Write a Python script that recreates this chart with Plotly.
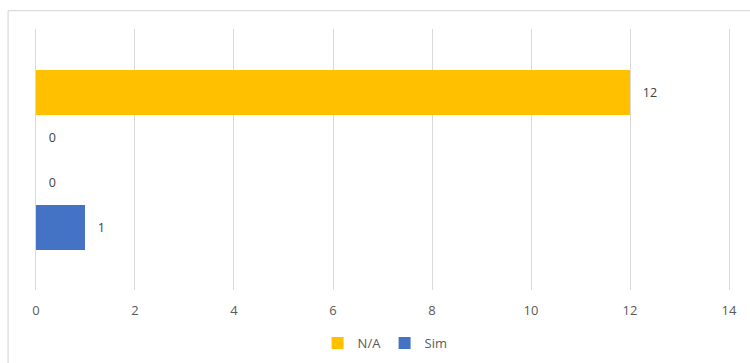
import plotly.graph_objects as go

# Two response groups (bottom to top), one value per series in each group
groups = [0, 1]
sim_values = [1, 0]
na_values = [0, 12]

x_ticks = [0, 2, 4, 6, 8, 10, 12, 14]

FONT = "Open Sans"
GRID = "#d9d9d9"
label_fmt = "\u00a0\u00a0\u00a0%{x}"

fig = go.Figure()
fig.add_trace(go.Bar(
    name="Sim", y=groups, x=sim_values, orientation="h",
    marker=dict(color="#4472C4", line=dict(width=0)),
    texttemplate=label_fmt, textposition="outside", cliponaxis=False,
    textfont=dict(family=FONT, size=12.5, color="#404040"),
))
fig.add_trace(go.Bar(
    name="N/A", y=groups, x=na_values, orientation="h",
    marker=dict(color="#FFC000", line=dict(width=0)),
    texttemplate=label_fmt, textposition="outside", cliponaxis=False,
    textfont=dict(family=FONT, size=12.5, color="#404040"),
))

fig.update_layout(
    width=750, height=363,
    margin=dict(l=33.4, r=18, t=29.3, b=73, pad=0, autoexpand=False),
    paper_bgcolor="white", plot_bgcolor="white",
    barmode="group", bargap=0, bargroupgap=0,
    font=dict(family=FONT, size=12, color="#595959"),
    xaxis=dict(
        range=[-0.06, 14.06], tickvals=x_ticks, showgrid=True, gridcolor=GRID,
        gridwidth=1, zeroline=False, showline=False, ticks="",
        tickfont=dict(family=FONT, size=13, color="#595959"),
        ticklabelstandoff=11, fixedrange=True,
    ),
    yaxis=dict(
        range=[-0.95, 1.95], showticklabels=False, showgrid=False,
        zeroline=False, showline=False, ticks="", fixedrange=True,
    ),
    legend=dict(
        orientation="h", traceorder="reversed", x=0.503, xanchor="center",
        yref="container", y=0.055, yanchor="middle", itemwidth=30,
        entrywidth=22, entrywidthmode="pixels",
        font=dict(family=FONT, size=13, color="#595959"),
    ),
    shapes=[
        # chart frame: top and left edges
        dict(type="line", xref="paper", yref="paper",
             x0=-0.0356, x1=1.05, y0=1.0702, y1=1.0702,
             line=dict(color=GRID, width=1.2)),
        dict(type="line", xref="paper", yref="paper",
             x0=-0.0356, x1=-0.0356, y0=1.0702, y1=-0.5,
             line=dict(color=GRID, width=1.2)),
    ],
)

fig.write_html("out.html")
